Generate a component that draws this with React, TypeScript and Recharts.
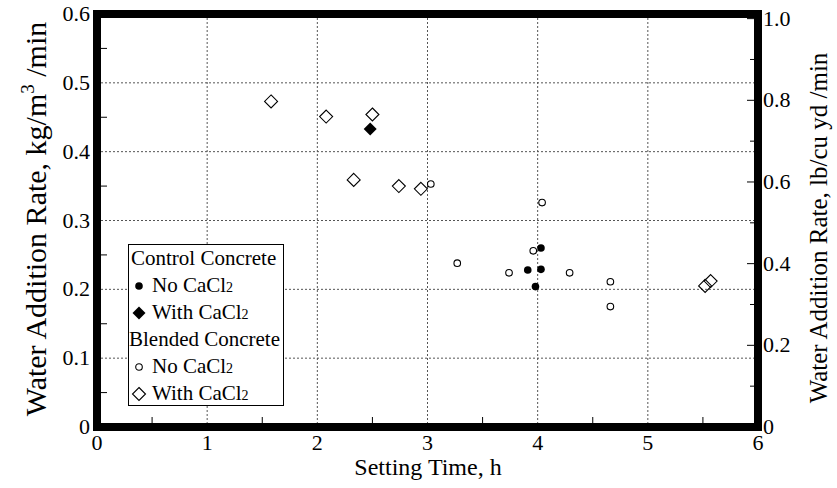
import React from "react";
import { ScatterChart, Scatter, XAxis, YAxis, CartesianGrid } from "recharts";

const FONT = '"Liberation Serif", "Times New Roman", serif';

// setting time (h) vs water addition rate (kg/m3/min)
const controlNoTime = [4.03, 3.91, 4.03, 3.98];
const controlNoRate = [0.26, 0.228, 0.229, 0.204];
const controlWithTime = [2.48];
const controlWithRate = [0.433];
const blendedNoTime = [3.03, 4.04, 3.96, 3.27, 3.74, 4.29, 4.66, 4.66];
const blendedNoRate = [0.353, 0.326, 0.256, 0.238, 0.224, 0.224, 0.211, 0.175];
const blendedWithTime = [1.58, 2.08, 2.5, 2.33, 2.74, 2.94, 5.52, 5.57];
const blendedWithRate = [0.473, 0.451, 0.454, 0.359, 0.35, 0.346, 0.205, 0.212];

const xTicks = [0, 0.5, 1, 1.5, 2, 2.5, 3, 3.5, 4, 4.5, 5, 5.5, 6];
const yTicks = [0, 0.05, 0.1, 0.15, 0.2, 0.25, 0.3, 0.35, 0.4, 0.45, 0.5, 0.55, 0.6];
const lbTicks = [0, 0.1, 0.2, 0.3, 0.4, 0.5, 0.6, 0.7, 0.8, 0.9, 1.0];
const xGrid = [1, 2, 3, 4, 5];
const yGrid = [0.1, 0.2, 0.3, 0.4, 0.5];
const xEdges = [0, 6];
const yEdges = [0, 0.6];
const KG_TO_LB = 1.6856;

const pairs = (xs: number[], ys: number[]) => xs.map((x, i) => ({ time: x, rate: ys[i] }));
// same points in lb/cu yd/min, only used so the right axis gets built
const lbPairs = (xs: number[], ys: number[]) => xs.map((x, i) => ({ time: x, rate: ys[i] * KG_TO_LB }));

const diamondPath = (cx: number, cy: number, h: number) =>
    `M${cx},${cy - h}L${cx + h},${cy}L${cx},${cy + h}L${cx - h},${cy}Z`;

const FilledCircle = (p: any) => <circle cx={p.cx} cy={p.cy} r={3.8} fill="#000" />;
const OpenCircle = (p: any) => (
    <circle cx={p.cx} cy={p.cy} r={3.3} fill="none" stroke="#000" strokeWidth={1.1} />
);
const FilledDiamond = (p: any) => <path d={diamondPath(p.cx, p.cy, 6.5)} fill="#000" />;
const OpenDiamond = (p: any) => (
    <path d={diamondPath(p.cx, p.cy, 6.5)} fill="none" stroke="#000" strokeWidth={1.1} />
);
const NoShape = () => <g />;

const fmt = (v: number) => (v === 0 ? "0" : v.toFixed(1));

const BottomTick = ({ x, y, payload }: any) => {
    const v = payload.value;
    const major = Number.isInteger(v);
    return (
        <g>
            {!major && <line x1={x} x2={x} y1={y - 4} y2={y - 10} stroke="#000" />}
            {major && (
                <text x={x} y={y + 23} textAnchor="middle" fontFamily={FONT} fontSize={22} fill="#000">
                    {v}
                </text>
            )}
        </g>
    );
};

const LeftTick = ({ x, y, payload }: any) => {
    const v = payload.value;
    const major = Math.round(v * 100) % 10 === 0;
    return (
        <g>
            {!major && <line x1={x + 4} x2={x + 10} y1={y} y2={y} stroke="#000" />}
            {major && (
                <text x={x - 7} y={y + 7} textAnchor="end" fontFamily={FONT} fontSize={22} fill="#000">
                    {fmt(v)}
                </text>
            )}
        </g>
    );
};

const RightTick = ({ x, y, payload }: any) => {
    const v = payload.value;
    const major = Math.round(v * 10) % 2 === 0;
    return (
        <g>
            <line x1={x - 4} x2={x - (major ? 11 : 8)} y1={y} y2={y} stroke="#000" />
            {major && (
                <text x={x + 5} y={y + 7} textAnchor="start" fontFamily={FONT} fontSize={22} fill="#000">
                    {fmt(v)}
                </text>
            )}
        </g>
    );
};

const LeftTitle = () => (
    <text transform="translate(46,219) rotate(-90)" textAnchor="middle" fontFamily={FONT} fontSize={30} fill="#000">
        Water Addition Rate, kg/m
        <tspan dy={-12} fontSize={19}>3</tspan>
        <tspan dy={12}> /min</tspan>
    </text>
);

const RightTitle = () => (
    <text transform="translate(827,228) rotate(-90)" textAnchor="middle" fontFamily={FONT} fontSize={25} fill="#000">
        Water Addition Rate, lb/cu yd /min
    </text>
);

const BottomTitle = () => (
    <text x={428} y={475} textAnchor="middle" fontFamily={FONT} fontSize={24} fill="#000">
        Setting Time, h
    </text>
);

const Sub2 = () => <span style={{ fontSize: 14 }}>2</span>;

const LegendBox = () => {
    const row: React.CSSProperties = { height: 27, lineHeight: "27px", whiteSpace: "nowrap", position: "relative" };
    const marker = (shape: React.ReactNode) => (
        <svg width={16} height={16} style={{ position: "absolute", left: 2, top: 6 }}>
            {shape}
        </svg>
    );
    const item: React.CSSProperties = { ...row, paddingLeft: 23 };
    return (
        <div
            style={{
                position: "absolute",
                left: 128,
                top: 244,
                width: 156,
                height: 162,
                border: "1px solid #000",
                background: "#fff",
                fontFamily: FONT,
                fontSize: 21,
                color: "#000",
                boxSizing: "border-box",
            }}
        >
            <div style={{ ...row, paddingLeft: 2 }}>Control Concrete</div>
            <div style={item}>
                {marker(<FilledCircle cx={8} cy={8} />)}No CaCl<Sub2 />
            </div>
            <div style={item}>
                {marker(<FilledDiamond cx={8} cy={8} />)}With CaCl<Sub2 />
            </div>
            <div style={{ ...row, paddingLeft: 0 }}>Blended Concrete</div>
            <div style={item}>
                {marker(<OpenCircle cx={8} cy={8} />)}No CaCl<Sub2 />
            </div>
            <div style={item}>
                {marker(<OpenDiamond cx={8} cy={8} />)}With CaCl<Sub2 />
            </div>
        </div>
    );
};

export default function App() {
    return (
        <div style={{ position: "absolute", left: 0, top: 0, width: 837, height: 488, background: "#fff" }}>
            <ScatterChart width={837} height={488} margin={{ top: 14, right: 0, bottom: 0, left: 0 }}>
                <CartesianGrid
                    stroke="#555"
                    strokeDasharray="2 2"
                    horizontalValues={yGrid}
                    verticalValues={xGrid}
                />
                {/* heavy box round the plot (grid is clipped, so only the inner half shows) */}
                <CartesianGrid
                    stroke="#000"
                    strokeWidth={8}
                    strokeLinecap="square"
                    horizontalValues={yEdges}
                    verticalValues={xEdges}
                />
                <XAxis
                    dataKey="time"
                    type="number"
                    domain={[0, 6]}
                    ticks={xTicks}
                    interval={0}
                    height={61}
                    tickSize={0}
                    tickMargin={0}
                    tickLine={false}
                    axisLine={false}
                    tick={<BottomTick />}
                    label={BottomTitle}
                />
                <YAxis
                    dataKey="rate"
                    type="number"
                    domain={[0, 0.6]}
                    ticks={yTicks}
                    interval={0}
                    width={97}
                    tickSize={0}
                    tickMargin={0}
                    tickLine={false}
                    axisLine={false}
                    tick={<LeftTick />}
                    label={LeftTitle}
                />
                <YAxis
                    yAxisId="right"
                    orientation="right"
                    dataKey="rate"
                    type="number"
                    domain={[0, 0.6 * KG_TO_LB]}
                    allowDataOverflow
                    ticks={lbTicks}
                    interval={0}
                    width={79}
                    tickSize={0}
                    tickMargin={0}
                    tickLine={false}
                    axisLine={false}
                    tick={<RightTick />}
                    label={RightTitle}
                />
                <Scatter
                    yAxisId="right"
                    data={lbPairs(controlNoTime, controlNoRate)}
                    shape={NoShape}
                    legendType="none"
                    isAnimationActive={false}
                />
                <Scatter data={pairs(blendedWithTime, blendedWithRate)} shape={OpenDiamond} isAnimationActive={false} />
                <Scatter data={pairs(blendedNoTime, blendedNoRate)} shape={OpenCircle} isAnimationActive={false} />
                <Scatter data={pairs(controlWithTime, controlWithRate)} shape={FilledDiamond} isAnimationActive={false} />
                <Scatter data={pairs(controlNoTime, controlNoRate)} shape={FilledCircle} isAnimationActive={false} />
            </ScatterChart>
            <LegendBox />
        </div>
    );
}
